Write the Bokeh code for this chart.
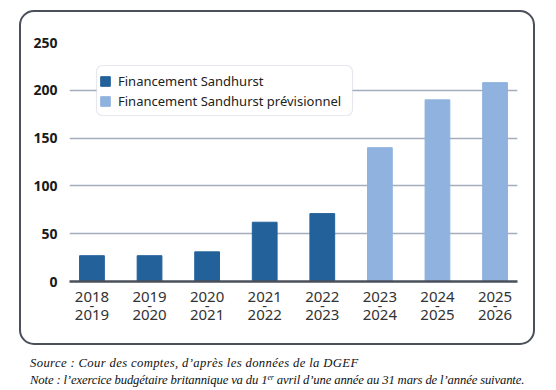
from bokeh.plotting import figure
from bokeh.models import (FixedTicker, BoxAnnotation, Legend, LegendItem,
                          ColumnDataSource, Range1d, Div)
from bokeh.layouts import column
from bokeh.embed import file_html
from bokeh.resources import INLINE

# ---- data ----
periods = ["2018\n-\n2019", "2019\n-\n2020", "2020\n-\n2021", "2021\n-\n2022",
           "2022\n-\n2023", "2023\n-\n2024", "2024\n-\n2025", "2025\n-\n2026"]
actual_idx = [0, 1, 2, 3, 4]
actual_vals = [27, 27, 31, 62, 71]
forecast_idx = [5, 6, 7]
forecast_vals = [140, 190, 208]
y_ticks = [0, 50, 100, 150, 200, 250]
series_names = ["Financement Sandhurst", "Financement Sandhurst prévisionnel"]
source_text = "Source : Cour des comptes, d’après les données de la DGEF"
note_text = ("Note : l’exercice budgétaire britannique va du 1"
             "<span style='font-size:8px;position:relative;top:-4px;line-height:0'>er</span>"
             " avril d’une année au 31 mars de l’année suivante.")

DARK = "#22619a"
LIGHT = "#8fb2de"
FONT = "Noto Sans"

p = figure(width=512, height=331, output_backend="svg", toolbar_location=None,
           x_range=Range1d(-0.39, 7.39), y_range=Range1d(0, 250),
           min_border_left=48, min_border_right=16, min_border_top=30,
           min_border_bottom=62)
p.outline_line_color = None
p.border_fill_color = None
p.background_fill_color = None

src_a = ColumnDataSource(dict(x=actual_idx, top=actual_vals))
src_f = ColumnDataSource(dict(x=forecast_idx, top=forecast_vals))
r_a = p.vbar(x="x", top="top", width=0.43, source=src_a, color=DARK)
r_f = p.vbar(x="x", top="top", width=0.43, source=src_f, color=LIGHT)

# axes
p.xaxis.ticker = FixedTicker(ticks=list(range(len(periods))))
p.xaxis.major_label_overrides = {i: lab for i, lab in enumerate(periods)}
p.xaxis.axis_line_color = "#4a4f5a"
p.xaxis.axis_line_width = 2.5
p.xaxis.major_tick_line_color = None
p.xaxis.minor_tick_line_color = None
p.xaxis.major_label_text_font = FONT
p.xaxis.major_label_text_font_size = "15px"
p.xaxis.major_label_text_color = "#333333"
p.xaxis.major_label_text_line_height = 0.46
p.xaxis.major_label_standoff = -2

p.yaxis.ticker = FixedTicker(ticks=y_ticks)
p.yaxis.axis_line_color = None
p.yaxis.major_tick_line_color = None
p.yaxis.minor_tick_line_color = None
p.yaxis.major_label_text_font = FONT
p.yaxis.major_label_text_font_size = "14px"
p.yaxis.major_label_text_font_style = "bold"
p.yaxis.major_label_text_color = "#1a1a1a"
p.yaxis.major_label_standoff = 6

p.xgrid.grid_line_color = None
p.ygrid.grid_line_color = "#a4adbd"
p.ygrid.grid_line_width = 1.5

# legend box (rounded)
lbox = BoxAnnotation(left=75, right=331, top=53, bottom=103,
                     left_units="canvas", right_units="canvas",
                     top_units="canvas", bottom_units="canvas",
                     fill_color="white", fill_alpha=1, line_color="#aab2c2",
                     line_width=1.2, border_radius=6)
p.add_layout(lbox)

legend = Legend(items=[LegendItem(label=series_names[0], renderers=[r_a]),
                       LegendItem(label=series_names[1], renderers=[r_f])],
                location=(30, 171), border_line_color=None,
                background_fill_alpha=0, padding=6, spacing=2, margin=0,
                glyph_width=12, glyph_height=12, label_height=13,
                label_standoff=7, label_text_font=FONT,
                label_text_font_size="13px", label_text_color="#222222")
p.add_layout(legend, "center")

boxed = column(p, width=516, height=335,
               styles={"border": "2px solid #4a4f5a", "border-radius": "15px",
                       "box-sizing": "border-box",
                       "margin-left": "19px", "margin-top": "10px"})

caption = Div(text=(f"<div style='letter-spacing:0.35px'>{source_text}</div>"
                    f"<div style='letter-spacing:-0.15px'>{note_text}</div>"),
              styles={"font-family": "'Liberation Serif', serif",
                      "font-style": "italic", "font-size": "12.7px",
                      "line-height": "17px", "color": "#111111",
                      "margin-left": "30px", "margin-top": "10px"},
              width=520)

page = column(boxed, caption)
open("out.html", "w").write(file_html(page, INLINE))
